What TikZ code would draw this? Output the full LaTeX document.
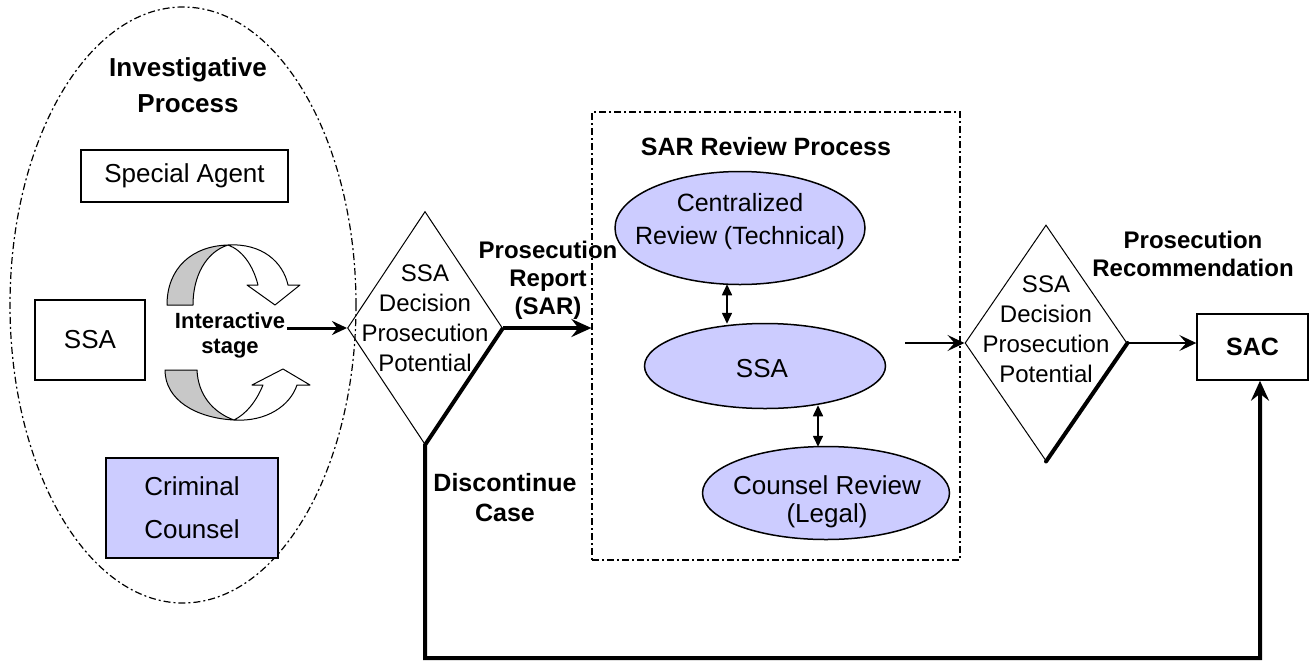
\documentclass[tikz,border=0pt]{standalone}
\usepackage{fontspec}
\setmainfont{Liberation Sans}
\usetikzlibrary{shapes.geometric,arrows.meta,calc}
\definecolor{lav}{HTML}{CCCCFF}
\definecolor{band}{HTML}{C8C8C8}
\begin{document}
\begin{tikzpicture}[x=1pt,y=-1pt,
  reg/.style={inner sep=0pt, align=center, font=\fontsize{24}{30}\selectfont},
  bld/.style={inner sep=0pt, align=center, font=\fontsize{24}{28}\selectfont\bfseries},
  boxnode/.style={draw, line width=1.4pt, inner sep=0pt, align=center, font=\fontsize{26}{43}\selectfont},
  oval/.style={ellipse, draw, line width=1.5pt, fill=lav, inner sep=0pt},
  dec/.style={diamond, draw, line width=1pt, inner sep=0pt},
  dashdotline/.style={line width=1.2pt, dash pattern=on 7pt off 3pt on 2pt off 3pt},
  bigtip/.style={-{Stealth[length=20pt,width=18pt,inset=7pt]}},
  thintip/.style={-{Stealth[length=17pt,width=16pt,inset=7pt]}},
  dbl/.style={line width=1.6pt, {Triangle[length=11pt,width=10pt]}-{Triangle[length=11pt,width=10pt]}},
  band3d/.style={line width=1pt, line join=round}
]
\useasboundingbox (0,0) rectangle (1312,662);

% ---------- Investigative process ----------
\node[ellipse, draw, dashdotline, minimum width=346pt, minimum height=596pt, inner sep=0pt] (inv) at (183,305) {};
\node[bld, font=\fontsize{26}{36}\selectfont\bfseries] (invt) at (188,85) {Investigative\\Process};
\node[boxnode, minimum width=207pt, minimum height=52pt] (agent) at (184.5,176) {Special Agent};
\node[boxnode, minimum width=110pt, minimum height=80pt] (ssa1) at (90,340) {SSA};
\node[boxnode, fill=lav, minimum width=172pt, minimum height=100pt] (cc) at (192,508) {Criminal\\Counsel};

% curved 3-D arrows (interactive stage)
\filldraw[band3d, fill=band] (167,305) -- (193,305) .. controls (193,276) and (206,252) .. (228,245)
  .. controls (192,246) and (167,268) .. cycle;
\filldraw[band3d, fill=white] (228,245) .. controls (262,243) and (283,262) .. (288,285)
  -- (300,285) -- (275,305) -- (247,285) -- (258,285)
  .. controls (253,265) and (242,250) .. cycle;
\filldraw[band3d, fill=band] (165,370) -- (197,370) .. controls (198,394) and (212,412) .. (234,420)
  .. controls (196,418) and (165,400) .. cycle;
\filldraw[band3d, fill=white] (234,420) .. controls (266,422) and (290,406) .. (297,385)
  -- (310,385) -- (283,369) -- (252,385) -- (263,385)
  .. controls (256,402) and (246,414) .. cycle;

\node[bld, font=\fontsize{22}{25}\selectfont\bfseries] (inter) at (230,335.5) {Interactive\\stage};

% ---------- first decision ----------
\node[dec, minimum width=155pt, minimum height=233pt] (d1) at (425,328) {};
\node[reg] (d1t) at (425,318) {SSA\\Decision\\Prosecution\\Potential};
\coordinate (iaend) at (287,328);
\draw[line width=3pt, -{Stealth[length=15pt,width=14pt,inset=5pt]}] (iaend) -- (d1.west);

\node[bld] (prt) at (548,280) {Prosecution\\Report\\(SAR)};
\node[bld, font=\fontsize{25}{30}\selectfont\bfseries] (disc) at (505,498) {Discontinue\\Case};

% ---------- SAR review process ----------
\node[draw, dashdotline, minimum width=368pt, minimum height=448pt, inner sep=0pt] (sar) at (776,336) {};
\node[bld, font=\fontsize{25}{30}\selectfont\bfseries] (sart) at (766,147) {SAR Review Process};
\draw[line width=3.2pt, bigtip] (d1.east) -- (d1.east -| sar.west);

\node[oval, minimum width=250pt, minimum height=113pt] (cent) at (740,228) {};
\node[reg, font=\fontsize{25}{33}\selectfont] (centt) at (740,222) {Centralized\\Review (Technical)};
\node[oval, minimum width=241pt, minimum height=85pt] (ssa2) at (765,366) {};
\node[reg, font=\fontsize{26}{30}\selectfont] (ssa2t) at (762,369) {SSA};
\node[oval, minimum width=247pt, minimum height=93pt] (cr) at (826,493) {};
\node[reg, font=\fontsize{26}{28}\selectfont] (crt) at (827,502) {Counsel Review\\(Legal)};

\coordinate (ax1) at (727,0);
\coordinate (ax2) at (818,0);
\draw[dbl] ($(cent.south -| ax1)+(0,-1)$) -- ($(ssa2.north -| ax1)+(0,1)$);
\draw[dbl] ($(ssa2.south -| ax2)+(0,-4)$) -- ($(cr.north -| ax2)+(0,1)$);

% ---------- second decision ----------
\node[dec, minimum width=162pt, minimum height=236pt] (d2) at (1046,343) {};
\node[reg] (d2t) at (1046,329) {SSA\\Decision\\Prosecution\\Potential};
\coordinate (s2) at (905,343);
\draw[line width=1.3pt, thintip] (s2) -- (d2.west);
\draw[line width=4pt, line cap=round] (d2.east) -- (d2.south);

\node[bld] (prr) at (1193,254) {Prosecution\\Recommendation};
\node[boxnode, font=\fontsize{25}{30}\selectfont\bfseries, minimum width=111pt, minimum height=66pt] (sac) at (1252.5,347) {SAC};
\draw[line width=1.3pt, thintip] (d2.east) -- (d2.east -| sac.west);

% ---------- discontinue feedback line ----------
\coordinate (fb) at (1260,658);
\draw[line width=4pt, line join=miter, bigtip] (d1.east) -- (d1.south) |- (fb) -- (fb |- sac.south);
\end{tikzpicture}
\end{document}
